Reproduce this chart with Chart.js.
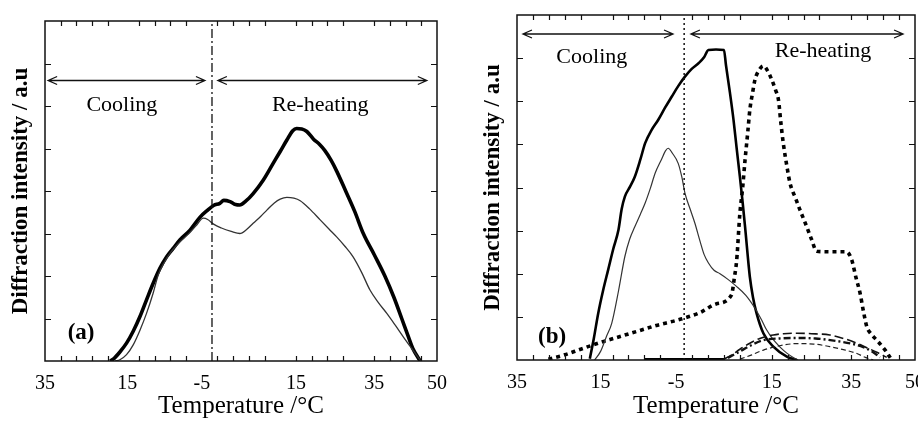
<!DOCTYPE html>
<html lang="en">
<head>
<meta charset="UTF-8">
<title>Diffraction intensity vs temperature</title>
<script src="https://cdn.jsdelivr.net/npm/chart.js"></script>
<style>
  body { margin: 0; width: 918px; height: 422px; overflow: hidden; background: #fff; position: relative; }
  #chartA { position: absolute; left: 0; top: 0; }
  #chartB { position: absolute; left: 458px; top: 0; }
</style>
</head>
<body>
<canvas id="chartA" width="458" height="422"></canvas>
<canvas id="chartB" width="475" height="422"></canvas>

<script>
// x runs along the thermal programme: 35 -> -5 (cooling), then -5 -> 50 (re-heating)
const tickPos = [0, 21, 40, 64, 84, 100];
const tickLabels = ['35', '15', '-5', '15', '35', '50'];

// panel (a)
const aThick = [[16.6,0],[17.5,0.05],[19,0.2],[20.8,0.42],[22.5,0.7],[24.2,1.04],[25.9,1.44],[27.6,1.83],
  [29.3,2.18],[31,2.45],[32.7,2.65],[34.4,2.85],[37,3.08],[39.5,3.38],[41.5,3.55],[43,3.66],[44.6,3.71],
  [45.6,3.78],[47.2,3.75],[48.6,3.68],[49.7,3.67],[51.2,3.76],[53.1,3.94],[55.7,4.26],[58.2,4.65],[60,4.93],
  [61.7,5.2],[63.2,5.42],[64.2,5.47],[65.5,5.46],[66.8,5.4],[68.5,5.22],[70,5.1],[71.4,4.95],[73,4.72],
  [74.5,4.45],[76.7,4.0],[79,3.52],[81.2,3.0],[84,2.5],[86.7,2.0],[89,1.5],[91,1.0],[92.5,0.62],[93.8,0.3],[95.7,0]];
const aThin = [[17.9,0],[19.1,0.03],[20.8,0.15],[22.5,0.38],[24.2,0.72],[25.9,1.12],[27.6,1.6],[28.9,2.03],
  [30.5,2.33],[32,2.55],[34.4,2.8],[36.5,2.98],[38.5,3.18],[40.4,3.36],[41.5,3.33],[43,3.22],[45,3.13],
  [47.5,3.05],[49.7,3.0],[51.5,3.1],[53.1,3.24],[55,3.4],[56.6,3.55],[58.5,3.72],[60,3.81],[61.7,3.85],
  [63.5,3.83],[65.1,3.77],[67.5,3.58],[70.2,3.32],[72.5,3.1],[74.4,2.92],[76.5,2.7],[78.6,2.45],[80.8,2.08],
  [82.9,1.67],[85,1.38],[87.2,1.12],[89.3,0.85],[91.4,0.57],[93.5,0.3],[95.7,0.02]];
const aDivider = [[42.6,0],[42.6,8]];

// panel (b)
const bThick = [[18.3,0.03],[19.3,0.5],[20.4,1.08],[21.6,1.6],[22.9,2.09],[24.2,2.58],[25.5,3.02],[26.3,3.5],
  [27.1,3.79],[28.4,4.02],[29.6,4.25],[31,4.65],[32.2,5.03],[33.8,5.33],[35.5,5.57],[37.2,5.85],[38.9,6.11],
  [40.5,6.35],[42.2,6.57],[43.9,6.75],[45.6,6.88],[47,7.02],[48.1,7.19],[50,7.2],[52,7.19],[52.5,6.84],
  [53.5,6.2],[54.4,5.57],[55.2,4.9],[56,4.25],[56.7,3.65],[57.3,3.09],[58.5,1.93],[59.3,1.45],[60.2,1.08],
  [61.9,0.62],[64.4,0.31],[67.8,0.08],[70.3,0]];
const bThin = [[19.5,0],[21,0.2],[22.5,0.55],[23.8,0.85],[25.5,1.6],[27.1,2.4],[28.3,2.8],[29.6,3.09],[31,3.38],
  [32.2,3.64],[33.5,3.98],[34.7,4.33],[36.3,4.65],[37.3,4.85],[38,4.91],[39,4.8],[40.5,4.56],[41.4,4.25],
  [42.2,3.87],[43.5,3.5],[44.7,3.17],[46,2.75],[47,2.45],[48.1,2.25],[49.5,2.08],[51,2.0],[53,1.87],[55,1.72],
  [57.5,1.5],[59.8,1.2],[61.5,0.92],[62.7,0.7],[64.4,0.47],[66.1,0.3],[67.8,0.16],[69.4,0.06],[70.6,0]];
const bHeavyDash = [[7.9,0.02],[12,0.12],[16,0.25],[20.4,0.39],[25,0.52],[30,0.66],[35,0.8],[40.5,0.93],[46,1.1],
  [50,1.3],[53.9,1.51],[54.6,1.9],[55.2,2.32],[56,3.4],[56.7,4.0],[57.3,4.64],[58,5.3],[58.5,5.8],[59.2,6.2],
  [59.8,6.5],[60.8,6.72],[61.9,6.82],[63,6.7],[64,6.5],[65,6.25],[65.7,6.03],[66.3,5.5],[66.9,5.03],[67.8,4.5],
  [68.6,4.1],[70,3.75],[71.1,3.48],[72.8,3.09],[74,2.8],[75.3,2.52],[79,2.51],[82.8,2.51],[84.1,2.32],[85.2,1.9],
  [86.2,1.55],[87,1.15],[87.9,0.77],[89,0.6],[90.4,0.46],[92.5,0.23],[93.8,0.05]];
const bLongDash = [[52,0.02],[54,0.12],[56,0.25],[58.5,0.39],[61,0.5],[64.4,0.58],[67,0.61],[70.3,0.62],[74,0.61],
  [78.6,0.58],[82,0.5],[85.4,0.39],[88,0.28],[90.4,0.18],[92.9,0.06]];
const bDashDot = [[53,0.05],[56,0.2],[59,0.35],[61.9,0.46],[66,0.5],[70,0.51],[75,0.5],[80.3,0.44],[84,0.38],
  [87,0.3],[89.5,0.18],[91.2,0.06]];
const bFineDash = [[56,0.02],[59,0.12],[61.9,0.23],[66,0.33],[70.3,0.38],[74.5,0.37],[78.6,0.31],[82,0.24],
  [85.4,0.15],[87.5,0.06],[89.5,0]];
const bBase = [[32,0.02],[52,0.02]];
const bDivider = [[42,0],[42,8]];

Chart.defaults.font.family = '"Liberation Serif", "Times New Roman", serif';
Chart.defaults.color = '#000';

function line(pairs, width, dash, color, smooth = true) {
  return {
    data: pairs.map(([x, y]) => ({ x, y })),
    borderColor: color || '#000',
    borderWidth: width,
    borderDash: dash || [],
    pointRadius: 0,
    fill: false,
    tension: smooth ? 0.4 : 0,
    cubicInterpolationMode: smooth ? 'monotone' : 'default'
  };
}

// frame, inward tick marks, arrows and labels
const framePlugin = {
  id: 'frame',
  afterDatasetsDraw(chart, args, opts) {
    const { ctx, chartArea: a, scales: { x, y } } = chart;
    ctx.save();
    ctx.strokeStyle = '#111';
    ctx.lineWidth = 1.5;
    ctx.setLineDash([]);
    ctx.strokeRect(a.left, a.top, a.right - a.left, a.bottom - a.top);

    ctx.lineWidth = 1.2;
    ctx.beginPath();
    for (let v = 4; v < 100; v += 4) {
      if (v % 20 === 0) continue;
      const px = Math.round(x.getPixelForValue(v)) + 0.5;
      ctx.moveTo(px, a.top); ctx.lineTo(px, a.top + 5);
      ctx.moveTo(px, a.bottom); ctx.lineTo(px, a.bottom - 5);
    }
    for (let v = 1; v < 8; v++) {
      const py = Math.round(y.getPixelForValue(v)) + 0.5;
      ctx.moveTo(a.left, py); ctx.lineTo(a.left + 6, py);
      ctx.moveTo(a.right, py); ctx.lineTo(a.right - 6, py);
    }
    ctx.stroke();

    ctx.lineWidth = 1.3;
    (opts.arrows || []).forEach(ar => {
      const x1 = x.getPixelForValue(ar.x1), x2 = x.getPixelForValue(ar.x2), py = y.getPixelForValue(ar.y);
      ctx.beginPath();
      ctx.moveTo(x1, py); ctx.lineTo(x2, py);
      ctx.moveTo(x1 + 9, py - 4); ctx.lineTo(x1, py); ctx.lineTo(x1 + 9, py + 4);
      ctx.moveTo(x2 - 9, py - 4); ctx.lineTo(x2, py); ctx.lineTo(x2 - 9, py + 4);
      ctx.stroke();
    });

    ctx.fillStyle = '#000';
    ctx.textAlign = 'center';
    ctx.textBaseline = 'middle';
    (opts.texts || []).forEach(t => {
      ctx.font = (t.bold ? 'bold ' : '') + t.size + 'px "Liberation Serif", serif';
      ctx.fillText(t.text, x.getPixelForValue(t.x), y.getPixelForValue(t.y));
    });
    ctx.restore();
  }
};

function makeChart(id, datasets, layout, annot) {
  return new Chart(document.getElementById(id), {
    type: 'line',
    data: { datasets },
    options: {
      responsive: false,
      animation: false,
      layout: { padding: { left: 0, top: layout.top, right: layout.right, bottom: 0 } },
      plugins: { legend: { display: false }, tooltip: { enabled: false }, frame: annot },
      scales: {
        x: {
          type: 'linear', min: 0, max: 100,
          afterBuildTicks: s => { s.ticks = tickPos.map(v => ({ value: v })); },
          afterFit: s => { s.height = layout.xHeight; },
          ticks: { autoSkip: false, maxRotation: 0, padding: 3, font: { size: 20 },
            callback: (v, i) => tickLabels[i] },
          grid: { display: false },
          border: { display: false },
          title: { display: true, text: 'Temperature /°C', font: { size: 25 }, padding: { top: 0, bottom: 1 } }
        },
        y: {
          min: 0, max: 8,
          afterFit: s => { s.width = layout.yWidth; },
          ticks: { display: false },
          grid: { display: false },
          border: { display: false },
          title: { display: true, text: 'Diffraction intensity / a.u', font: { size: 23, weight: 'bold' },
            padding: { top: layout.yTitlePad, bottom: 0 } }
        }
      }
    },
    plugins: [framePlugin]
  });
}

makeChart('chartA', [
  line(aDivider, 1.3, [9, 3, 2, 3], '#111', false),
  line(aThin, 1.3, [], '#333'),
  line(aThick, 3.6, [])
], { top: 21, right: 21, xHeight: 61, yWidth: 45, yTitlePad: 7 }, {
  arrows: [{ x1: 0.8, x2: 40.8, y: 6.6 }, { x1: 44.1, x2: 97.4, y: 6.6 }],
  texts: [
    { text: 'Cooling', x: 19.6, y: 6.02, size: 22 },
    { text: 'Re-heating', x: 70.2, y: 6.02, size: 22 },
    { text: '(a)', x: 9.2, y: 0.66, size: 23, bold: true }
  ]
});

makeChart('chartB', [
  line(bDivider, 1.5, [2, 3], '#111', false),
  line(bBase, 2.5, [], '#000', false),
  line(bFineDash, 1.2, [5, 3], '#222'),
  line(bDashDot, 2.4, [7, 3, 2, 3], '#111'),
  line(bLongDash, 1.6, [9, 4], '#111'),
  line(bThin, 1.2, [], '#333'),
  line(bThick, 2.6, []),
  line(bHeavyDash, 3.6, [4, 4])
], { top: 15, right: 18, xHeight: 62, yWidth: 59, yTitlePad: 21 }, {
  arrows: [{ x1: 1.5, x2: 39.2, y: 7.56 }, { x1: 43.7, x2: 97.0, y: 7.56 }],
  texts: [
    { text: 'Cooling', x: 18.8, y: 7.03, size: 22 },
    { text: 'Re-heating', x: 76.9, y: 7.15, size: 22 },
    { text: '(b)', x: 8.8, y: 0.53, size: 23, bold: true }
  ]
});
</script>
</body>
</html>
